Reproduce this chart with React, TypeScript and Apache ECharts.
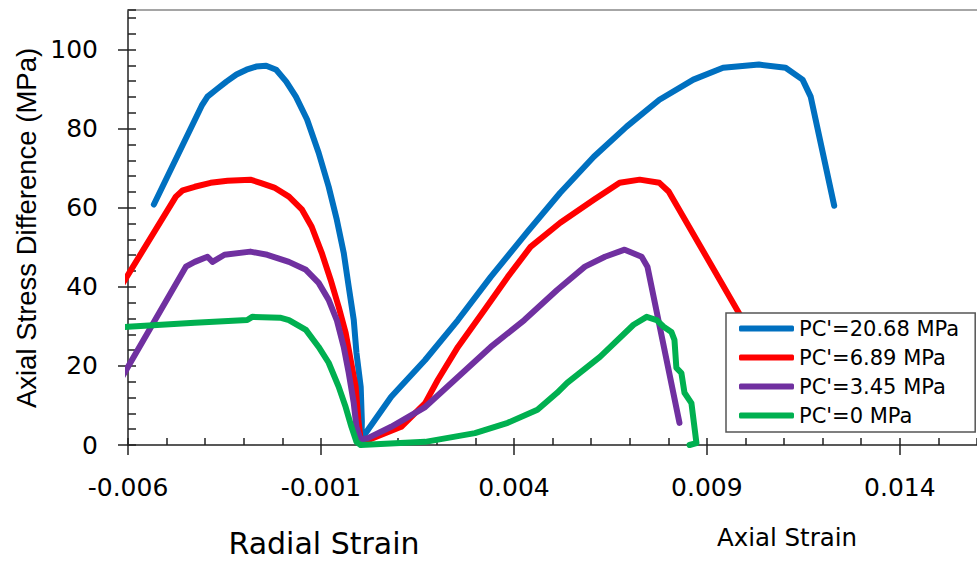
import React, { useEffect, useRef } from "react";
import * as echarts from "echarts";

// Strain (radial negative, axial positive) and axial stress difference (MPa)
const blueStrain = [-0.00533, -0.00409, -0.00394, -0.00371, -0.00345, -0.00319, -0.00293, -0.00268, -0.00242, -0.00216, -0.0019, -0.00165, -0.00136, -0.00106, -0.0008, -0.00059, -0.00041, -0.00028, -0.00015, -0.00008, 0.00003, 0.00006, 0.00005, 0.00082, 0.0017, 0.00255, 0.0034, 0.00435, 0.0052, 0.00607, 0.00692, 0.00777, 0.00865, 0.00942, 0.01035, 0.01104, 0.01148, 0.01169, 0.0123];
const blueStress = [60.8, 85.8, 88.1, 89.9, 91.9, 93.7, 94.9, 95.7, 95.9, 94.9, 91.9, 88.1, 82.3, 73.9, 65.3, 57.0, 48.6, 40.0, 31.6, 23.3, 14.7, 6.0, 1.5, 12.2, 21.5, 31.6, 42.5, 53.9, 63.8, 72.9, 80.5, 87.3, 92.4, 95.4, 96.2, 95.4, 92.4, 88.1, 60.5];

const redStrain = [-0.00646, -0.00476, -0.00458, -0.00427, -0.00386, -0.00342, -0.00283, -0.00257, -0.00221, -0.00183, -0.00149, -0.00124, -0.00098, -0.00075, -0.00054, -0.00036, -0.00023, -0.0001, -0.00003, 0.00003, 0.00023, 0.00108, 0.0017, 0.00203, 0.00255, 0.00324, 0.00384, 0.00443, 0.0052, 0.00607, 0.00674, 0.00726, 0.00777, 0.00801, 0.00983, 0.01104];
const redStress = [35.7, 62.8, 64.4, 65.3, 66.3, 66.8, 67.1, 66.3, 65.1, 62.8, 59.5, 55.2, 48.6, 41.8, 34.9, 28.4, 21.5, 14.7, 6.3, 1.3, 1.3, 4.6, 10.6, 16.5, 24.8, 34.2, 42.5, 50.1, 56.2, 62.0, 66.3, 67.1, 66.3, 64.1, 33.4, 13.9];

const purpleStrain = [-0.00633, -0.0045, -0.00427, -0.00394, -0.00381, -0.0035, -0.00283, -0.00239, -0.00183, -0.00139, -0.00106, -0.0008, -0.00059, -0.00041, -0.00028, -0.00015, -0.00008, 0.00003, 0.00023, 0.00082, 0.0017, 0.00255, 0.0034, 0.00427, 0.00512, 0.00584, 0.00636, 0.00687, 0.00731, 0.00746, 0.00829];
const purpleStress = [14.2, 45.1, 46.3, 47.6, 46.3, 48.1, 48.9, 48.1, 46.3, 44.3, 41.0, 36.7, 31.6, 24.8, 18.2, 10.6, 4.6, 1.3, 1.8, 4.6, 9.6, 17.2, 24.8, 31.6, 39.2, 45.1, 47.6, 49.4, 47.6, 45.1, 5.6];

const greenStrain = [-0.00633, -0.006, -0.00427, -0.00291, -0.00278, -0.00206, -0.00183, -0.00139, -0.00106, -0.0008, -0.00054, -0.00036, -0.00021, -0.00008, 0.00003, 0.0017, 0.00299, 0.00384, 0.00461, 0.00512, 0.00538, 0.00623, 0.0071, 0.00744, 0.0077, 0.00788, 0.00808, 0.00816, 0.00821, 0.00834, 0.00842, 0.0086, 0.00873, 0.00855];
const greenStress = [29.6, 29.9, 30.9, 31.6, 32.4, 32.2, 31.6, 29.1, 24.8, 20.8, 14.7, 9.6, 4.6, 0.8, 0, 0.8, 3.0, 5.6, 8.9, 13.2, 15.7, 22.3, 30.4, 32.4, 31.6, 29.9, 28.6, 26.6, 19.5, 18.2, 13.2, 10.6, 0.5, 0];

const seriesNames = ["PC'=20.68 MPa", "PC'=6.89 MPa", "PC'=3.45 MPa", "PC'=0 MPa"];
const seriesColors = ["#0070C0", "#FF0000", "#7030A0", "#00B050"];
const yTickValues = [0, 20, 40, 60, 80, 100];

const FONT = "DejaVu Sans";

function zip(xs: number[], ys: number[]) {
  return xs.map((x, i) => [x, ys[i]]);
}

export default function App() {
  const ref = useRef<HTMLDivElement>(null);
  useEffect(() => {
    if (!ref.current) return;
    const chart = echarts.init(ref.current, undefined, { renderer: "svg" });
    const allData = [
      zip(blueStrain, blueStress),
      zip(redStrain, redStress),
      zip(purpleStrain, purpleStress),
      zip(greenStrain, greenStress),
    ];
    const xCommon = { type: "value", min: -0.006, max: 0.016, gridIndex: 0 };
    chart.setOption({
      animation: false,
      backgroundColor: "#fff",
      grid: { left: 128, top: 10, right: -6, bottom: 120, containLabel: false },
      xAxis: [
        {
          ...xCommon,
          position: "bottom",
          interval: 0.005,
          axisLine: { show: true, onZero: false, lineStyle: { color: "#222", width: 1.5 } },
          axisTick: { show: true, inside: false, length: 10, lineStyle: { color: "#222", width: 1.5 } },
          axisLabel: {
            show: true,
            margin: 30,
            showMaxLabel: false,
            color: "#000",
            fontFamily: FONT,
            fontSize: 25,
            formatter: (v: number) => String(Number(v.toFixed(4))),
          },
          splitLine: { show: false },
        },
        {
          ...xCommon,
          position: "bottom",
          interval: 0.001,
          axisLine: { show: false, onZero: false },
          axisTick: { show: true, inside: true, length: 7, lineStyle: { color: "#222", width: 1.5 } },
          axisLabel: { show: false },
          splitLine: { show: false },
        },
        {
          ...xCommon,
          position: "top",
          interval: 0.005,
          axisLine: { show: true, onZero: false, lineStyle: { color: "#888", width: 1.5 } },
          axisTick: { show: false },
          axisLabel: { show: false },
          splitLine: { show: false },
        },
      ],
      yAxis: [
        {
          type: "value",
          min: 0,
          max: 110,
          interval: 20,
          position: "left",
          axisLine: { show: true, onZero: false, lineStyle: { color: "#222", width: 1.5 } },
          axisTick: { show: true, inside: false, length: 10, customValues: yTickValues, lineStyle: { color: "#222", width: 1.5 } },
          axisLabel: {
            show: true,
            margin: 30,
            customValues: yTickValues,
            color: "#000",
            fontFamily: FONT,
            fontSize: 25,
          },
          splitLine: { show: false },
        },
        {
          type: "value",
          min: 0,
          max: 110,
          interval: 4,
          position: "left",
          axisLine: { show: false, onZero: false },
          axisTick: { show: true, inside: true, length: 8, lineStyle: { color: "#222", width: 1.5 } },
          axisLabel: { show: false },
          splitLine: { show: false },
        },
      ],
      legend: {
        orient: "vertical",
        left: 726,
        top: 313,
        padding: [5, 16, 6, 13],
        icon: "roundRect",
        itemWidth: 55,
        itemHeight: 6,
        itemGap: 8,
        backgroundColor: "#fff",
        borderColor: "#555",
        borderWidth: 1.5,
        borderRadius: 0,
        textStyle: { color: "#000", fontFamily: FONT, fontSize: 21 },
        data: seriesNames,
      },
      series: allData.map((d, i) => ({
        name: seriesNames[i],
        type: "line",
        xAxisIndex: 0,
        yAxisIndex: 0,
        data: d,
        symbol: "none",
        showSymbol: false,
        clip: true,
        lineStyle: { color: seriesColors[i], width: 6, cap: "round", join: "round" },
        itemStyle: { color: seriesColors[i] },
        z: 2,
      })),
      graphic: [
        {
          type: "text",
          x: 26,
          y: 228,
          rotation: Math.PI / 2,
          style: {
            text: "Axial Stress Difference (MPa)",
            fontFamily: "Liberation Sans",
            fontSize: 27.5,
            fill: "#000",
            textAlign: "center",
            textVerticalAlign: "middle",
          },
        },
        {
          type: "text",
          x: 324,
          y: 543,
          style: {
            text: "Radial Strain",
            fontFamily: FONT,
            fontSize: 30,
            fill: "#000",
            textAlign: "center",
            textVerticalAlign: "middle",
          },
        },
        {
          type: "text",
          x: 787,
          y: 537,
          style: {
            text: "Axial Strain",
            fontFamily: FONT,
            fontSize: 24.5,
            fill: "#000",
            textAlign: "center",
            textVerticalAlign: "middle",
          },
        },
      ],
    });
    return () => chart.dispose();
  }, []);
  return (
    <div
      ref={ref}
      style={{ position: "fixed", left: 0, top: 0, width: 977, height: 565 }}
    />
  );
}
